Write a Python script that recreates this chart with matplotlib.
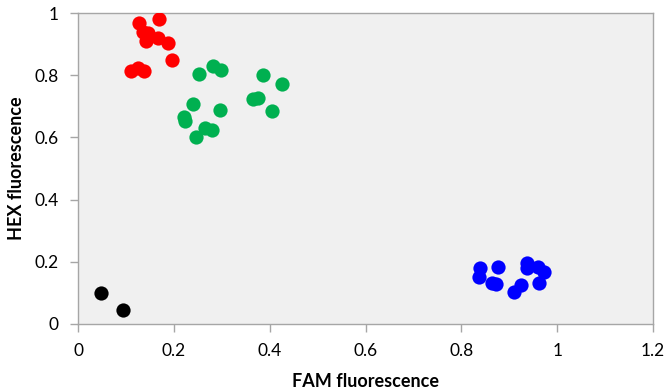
import matplotlib
matplotlib.use("Agg")
import matplotlib.pyplot as plt

plt.rcParams['font.family'] = ['Lato', 'DejaVu Sans']

# cluster data: FAM (x) vs HEX (y) fluorescence
red_x = [0.128, 0.169, 0.135, 0.146, 0.142, 0.167, 0.188, 0.196, 0.110, 0.125, 0.138]
red_y = [0.967, 0.980, 0.939, 0.936, 0.910, 0.920, 0.904, 0.849, 0.813, 0.823, 0.813]

green_x = [0.253, 0.282, 0.299, 0.386, 0.425, 0.365, 0.376, 0.404, 0.239, 0.296,
           0.221, 0.223, 0.265, 0.279, 0.246]
green_y = [0.803, 0.830, 0.817, 0.800, 0.772, 0.724, 0.727, 0.685, 0.706, 0.689,
           0.667, 0.654, 0.629, 0.624, 0.602]

blue_x = [0.838, 0.836, 0.876, 0.865, 0.872, 0.937, 0.938, 0.959, 0.973, 0.963, 0.924, 0.910]
blue_y = [0.179, 0.152, 0.184, 0.133, 0.130, 0.197, 0.180, 0.184, 0.168, 0.133, 0.127, 0.104]

black_x = [0.048, 0.094]
black_y = [0.100, 0.045]

fig = plt.figure(figsize=(6.67, 3.89), dpi=100)
ax = fig.add_axes([78/667, 1 - 324/389, (653 - 78)/667, (324 - 13)/389])
ax.set_facecolor('#f0f0f0')

ms = 105
ax.scatter(red_x, red_y, s=ms, color='#ff0000', linewidths=0, zorder=3)
ax.scatter(green_x, green_y, s=ms, color='#00b050', linewidths=0, zorder=3)
ax.scatter(blue_x, blue_y, s=ms, color='#0000ff', linewidths=0, zorder=3)
ax.scatter(black_x, black_y, s=ms, color='#000000', linewidths=0, zorder=3)

ax.set_xlim(0, 1.2)
ax.set_ylim(0, 1)
ax.set_xticks([0, 0.2, 0.4, 0.6, 0.8, 1, 1.2])
ax.set_xticklabels(['0', '0.2', '0.4', '0.6', '0.8', '1', '1.2'])
ax.set_yticks([0, 0.2, 0.4, 0.6, 0.8, 1])
ax.set_yticklabels(['0', '0.2', '0.4', '0.6', '0.8', '1'])

for sp in ax.spines.values():
    sp.set_color('#a6a6a6')
    sp.set_linewidth(1.0)

ax.tick_params(axis='both', colors='#a6a6a6', labelcolor='#000000', length=6,
               width=1.0, labelsize=12.5, direction='out', pad=8)

ax.set_xlabel('FAM fluorescence', fontsize=13, fontweight='bold', labelpad=10)
ax.set_ylabel('HEX fluorescence', fontsize=13, fontweight='bold')
ax.yaxis.set_label_coords(-0.092, 0.5)

fig.savefig('out.png', dpi=100)
